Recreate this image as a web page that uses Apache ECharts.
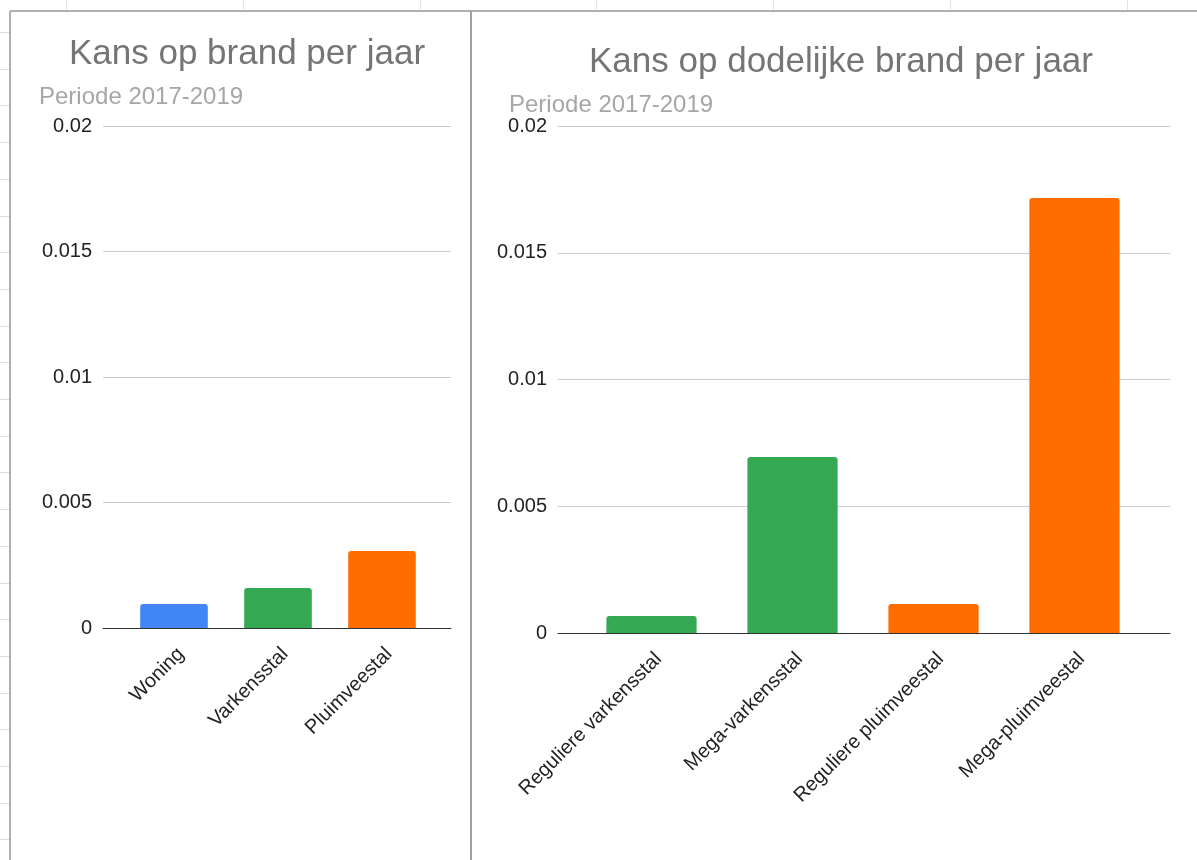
<!DOCTYPE html>
<html>
<head>
<meta charset="UTF-8"/>
<title>Kans op brand per jaar</title>
<script src="https://cdn.jsdelivr.net/npm/echarts@6/dist/echarts.min.js"></script>
<style>
    html, body { margin: 0; padding: 0; background: #ffffff; }
    #chart { width: 1197px; height: 860px; }
</style>
</head>
<body>
<div id="chart"></div>
<script type="text/javascript">

    // linker grafiek
    var brandCats = ['Woning', 'Varkensstal', 'Pluimveestal'];
    var brandValues = [0.00096, 0.00159, 0.00307];
    var brandColors = ['#4285f4', '#34a853', '#ff6d01'];

    // rechter grafiek
    var dodelijkCats = ['Reguliere varkensstal', 'Mega-varkensstal', 'Reguliere pluimveestal', 'Mega-pluimveestal'];
    var dodelijkValues = [0.00067, 0.00694, 0.00114, 0.01716];
    var dodelijkColors = ['#34a853', '#34a853', '#ff6d01', '#ff6d01'];

    var yTicks = [0, 0.005, 0.01, 0.015, 0.02];

    var font = '"Liberation Sans", Arial, sans-serif';
    const chart = echarts.init(document.getElementById('chart'));

    // spreadsheet-randen op de achtergrond
    var deco = [];
    deco.push({ type: 'line', shape: { x1: 10, y1: 11, x2: 1197, y2: 11 }, style: { stroke: '#b0b0b0', lineWidth: 2 }, silent: true });
    deco.push({ type: 'line', shape: { x1: 10, y1: 11, x2: 10, y2: 860 }, style: { stroke: '#b0b0b0', lineWidth: 2 }, silent: true });
    deco.push({ type: 'line', shape: { x1: 471, y1: 11, x2: 471, y2: 860 }, style: { stroke: '#a0a0a0', lineWidth: 2 }, silent: true });
    for (var y = 32; y < 860; y += 36.7) {
        deco.push({ type: 'line', shape: { x1: 0, y1: Math.round(y) + 0.5, x2: 9, y2: Math.round(y) + 0.5 }, style: { stroke: '#dddddd', lineWidth: 1 }, silent: true });
    }
    for (var x = 66; x < 1197; x += 176.8) {
        deco.push({ type: 'line', shape: { x1: Math.round(x) + 0.5, y1: 0, x2: Math.round(x) + 0.5, y2: 10 }, style: { stroke: '#e2e2e2', lineWidth: 1 }, silent: true });
    }

    var makeData = function(values, colors) {
        return values.map(function(v, i) {
            return { value: v, itemStyle: { color: colors[i], borderRadius: [3, 3, 0, 0] } };
        });
    };

    var valueAxis = function(gridIndex, show) {
        return {
            type: 'value',
            gridIndex: gridIndex,
            min: 0,
            max: 0.02,
            interval: 0.005,
            show: show,
            axisLine: { show: false },
            axisTick: { show: false },
            axisLabel: {
                show: show,
                color: '#222222',
                fontSize: 20,
                fontFamily: font,
                margin: 11,
                formatter: function(v) { return yTicks.indexOf(v) >= 0 ? String(v) : ''; }
            },
            splitLine: { show: show, lineStyle: { color: '#cccccc', width: 1 } }
        };
    };

    var catLabel = { interval: 0, rotate: 45, margin: 16, verticalAlign: 'top', color: '#222222', fontSize: 20, fontFamily: font };

    chart.setOption({
        animation: false,
        graphic: deco,
        title: [
            {
                text: 'Kans op brand per jaar',
                left: 242, top: 32, textAlign: 'center',
                textStyle: { color: '#757575', fontSize: 35, fontWeight: 'normal', fontFamily: font }
            },
            {
                text: 'Periode 2017-2019',
                left: 34, top: 80,
                textStyle: { color: '#a6a6a6', fontSize: 24, fontWeight: 'normal', fontFamily: font }
            },
            {
                text: 'Kans op dodelijke brand per jaar',
                left: 836, top: 40, textAlign: 'center',
                textStyle: { color: '#757575', fontSize: 35, fontWeight: 'normal', fontFamily: font }
            },
            {
                text: 'Periode 2017-2019',
                left: 504, top: 88,
                textStyle: { color: '#a6a6a6', fontSize: 24, fontWeight: 'normal', fontFamily: font }
            }
        ],
        grid: [
            { left: 103, width: 348, top: 126, height: 502 },
            { left: 122, width: 312, top: 126, height: 502 },
            { left: 558, width: 612, top: 126, height: 507 },
            { left: 581, width: 564, top: 126, height: 507 }
        ],
        xAxis: [
            {
                type: 'category', gridIndex: 0, data: brandCats,
                axisLine: { lineStyle: { color: '#333333', width: 1 } },
                axisTick: { show: false }, axisLabel: { show: false }
            },
            {
                type: 'category', gridIndex: 1, data: brandCats,
                axisLine: { show: false }, axisTick: { show: false },
                axisLabel: catLabel
            },
            {
                type: 'category', gridIndex: 2, data: dodelijkCats,
                axisLine: { lineStyle: { color: '#333333', width: 1 } },
                axisTick: { show: false }, axisLabel: { show: false }
            },
            {
                type: 'category', gridIndex: 3, data: dodelijkCats,
                axisLine: { show: false }, axisTick: { show: false },
                axisLabel: catLabel
            }
        ],
        yAxis: [
            valueAxis(0, true),
            valueAxis(1, false),
            valueAxis(2, true),
            valueAxis(3, false)
        ],
        series: [
            {
                name: 'Kans op brand',
                type: 'bar',
                xAxisIndex: 1, yAxisIndex: 1,
                barWidth: '65%',
                data: makeData(brandValues, brandColors)
            },
            {
                name: 'Kans op dodelijke brand',
                type: 'bar',
                xAxisIndex: 3, yAxisIndex: 3,
                barWidth: '64%',
                data: makeData(dodelijkValues, dodelijkColors)
            }
        ]
    });
</script>
</body>
</html>
